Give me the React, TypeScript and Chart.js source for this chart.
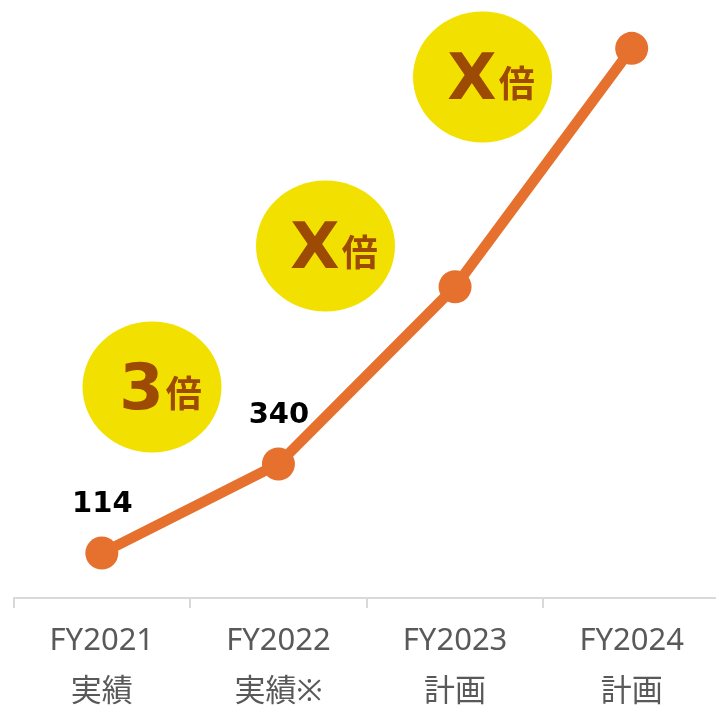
import React, { useEffect, useRef } from "react";
import { Chart, registerables } from "chart.js";

Chart.register(...registerables);

const categories: string[][] = [
  ["FY2021", "実績"],
  ["FY2022", "実績※"],
  ["FY2023", "計画"],
  ["FY2024", "計画"],
];
const values: number[] = [114, 340, 790, 1395];
const valueLabels: string[] = ["114", "340", "", ""];
const badgeNumbers: string[] = ["3", "X", "X"];
const badgeSuffix = "倍";

const ORANGE = "#E6712E";
const YELLOW = "#F2E100";
const BROWN = "#9C4A04";

// decorative badge centres (pixels)
const badgeCenters = [
  { cx: 152, cy: 387 },
  { cx: 325.5, cy: 246 },
  { cx: 482.5, cy: 77 },
];

const badgePlugin = {
  id: "badges",
  beforeDatasetsDraw(chart: any) {
    const ctx = chart.ctx as CanvasRenderingContext2D;
    ctx.save();
    badgeCenters.forEach((b, i) => {
      ctx.beginPath();
      ctx.ellipse(b.cx, b.cy, 69.5, 65.5, 0, 0, Math.PI * 2);
      ctx.fillStyle = YELLOW;
      ctx.fill();
      const numFont = "bold 64px 'DejaVu Sans', sans-serif";
      const sufFont = "bold 36px 'Noto Sans CJK JP', sans-serif";
      ctx.font = numFont;
      const w1 = ctx.measureText(badgeNumbers[i]).width;
      ctx.font = sufFont;
      const w2 = ctx.measureText(badgeSuffix).width;
      const gap = 2;
      const start = b.cx + 8.5 - (w1 + gap + w2) / 2;
      const base = b.cy + 21.5;
      ctx.fillStyle = BROWN;
      ctx.textAlign = "left";
      ctx.textBaseline = "alphabetic";
      ctx.font = numFont;
      ctx.fillText(badgeNumbers[i], start, base);
      ctx.font = sufFont;
      ctx.fillText(badgeSuffix, start + w1 + gap, base - 2);
    });
    ctx.restore();
  },
};

const valueLabelPlugin = {
  id: "valueLabels",
  afterDatasetsDraw(chart: any) {
    const ctx = chart.ctx as CanvasRenderingContext2D;
    const meta = chart.getDatasetMeta(0);
    ctx.save();
    ctx.font = "bold 29px 'DejaVu Sans', sans-serif";
    ctx.fillStyle = "#000000";
    ctx.textAlign = "center";
    ctx.textBaseline = "alphabetic";
    valueLabels.forEach((t, i) => {
      if (!t) return;
      const el = meta.data[i];
      ctx.fillText(t, el.x + 0.5, el.y - 41);
    });
    ctx.restore();
  },
};

export default function App() {
  const ref = useRef<HTMLCanvasElement | null>(null);

  useEffect(() => {
    if (!ref.current) return;
    const chart = new Chart(ref.current, {
      type: "line",
      data: {
        labels: categories,
        datasets: [
          {
            data: values,
            borderColor: ORANGE,
            backgroundColor: ORANGE,
            borderWidth: 10.5,
            pointRadius: 16.5,
            pointHoverRadius: 16.5,
            pointBackgroundColor: ORANGE,
            pointBorderWidth: 0,
            tension: 0,
            clip: false as any,
          },
        ],
      },
      options: {
        responsive: false,
        animation: false,
        layout: { autoPadding: false, padding: { top: 7, left: 13.5, right: 0, bottom: 0 } },
        plugins: {
          legend: { display: false },
          tooltip: { enabled: false },
        },
        scales: {
          x: {
            offset: true,
            afterFit: (scale: any) => {
              scale.height = 107;
            },
            border: { display: true, color: "#D9D9D9", width: 2 },
            grid: {
              offset: true,
              drawOnChartArea: false,
              drawTicks: true,
              tickLength: 10,
              color: "#D9D9D9",
              lineWidth: 2,
            },
            ticks: {
              color: "#595959",
              padding: 8,
              maxRotation: 0,
              autoSkip: false,
              font: {
                family: "'Noto Sans', 'Noto Sans CJK JP', sans-serif",
                size: 31,
                lineHeight: 1.64,
              },
            },
          },
          y: {
            display: false,
            min: 0,
            max: 1500,
          },
        },
      },
      plugins: [badgePlugin, valueLabelPlugin],
    });
    return () => chart.destroy();
  }, []);

  return (
    <div
      style={{
        position: "absolute",
        left: 0,
        top: 0,
        width: 716,
        height: 705,
        overflow: "hidden",
        background: "#ffffff",
      }}
    >
      <canvas ref={ref} width={720} height={705} style={{ width: 720, height: 705, display: "block" }} />
    </div>
  );
}
